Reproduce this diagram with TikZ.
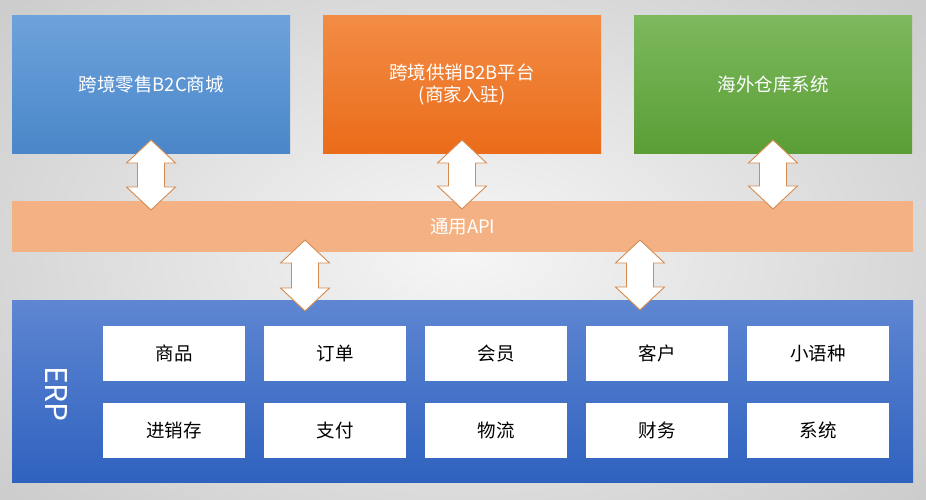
\documentclass[tikz,border=0pt]{standalone}
\usepackage{fontspec}
\setmainfont{Noto Sans CJK SC}
\usetikzlibrary{shadings}
\definecolor{bluetop}{HTML}{6DA3DC}
\definecolor{bluebot}{HTML}{4A86C8}
\definecolor{orgtop}{HTML}{F28C45}
\definecolor{orgbot}{HTML}{EB6C1A}
\definecolor{grntop}{HTML}{7DB95E}
\definecolor{grnbot}{HTML}{5A9E35}
\definecolor{apibar}{HTML}{F4B183}
\definecolor{erptop}{HTML}{5E86D2}
\definecolor{erpbot}{HTML}{2F62BF}
\definecolor{arrowedge}{HTML}{D58A50}
\definecolor{bgout}{HTML}{C9C9C9}
\definecolor{bgin}{HTML}{F6F6F6}
\tikzset{
  topbox/.style={minimum width=278pt, minimum height=138pt, inner sep=0pt, text=white, font=\fontsize{18.5}{22}\selectfont, align=center},
  modbox/.style={fill=white, minimum width=142pt, minimum height=55pt, inner sep=0pt, text=black, font=\fontsize{18.5}{20}\selectfont},
  blockarrow/.style={fill=white, draw=arrowedge, line width=0.9pt, line join=miter}
}
\newcommand\DblArrow[3]{% center x, top y, bottom y
  \path[blockarrow] (#1,#2) -- ++(24.5,23) -- ++(-11,0) -- (#1+13.5,#3-23) -- ++(11,0) -- (#1,#3)
    -- (#1-24.5,#3-23) -- ++(11,0) -- (#1-13.5,#2+23) -- ++(-11,0) -- cycle;}
\begin{document}
\begin{tikzpicture}[x=1pt,y=-1pt]
\useasboundingbox (0,0) rectangle (926,500);
\shade[inner color=bgin, outer color=bgout] (-200,-150) rectangle (1126,650);
% top systems
\node[topbox, top color=bluetop, bottom color=bluebot, anchor=north west] (b2c) at (12,15) {跨境零售B2C商城};
\node[topbox, top color=orgtop, bottom color=orgbot, anchor=north west] (b2b) at (323,15) {跨境供销B2B平台\\(商家入驻)};
\node[topbox, top color=grntop, bottom color=grnbot, anchor=north west] (wms) at (634,15) {海外仓库系统};
% API bar
\node[fill=apibar, minimum width=901pt, minimum height=51pt, inner sep=0pt, anchor=north west, text=white, font=\fontsize{18.5}{20}\selectfont] (api) at (12,201) {通用API};
% ERP
\node[top color=erptop, bottom color=erpbot, minimum width=901pt, minimum height=182pt, inner sep=0pt, anchor=north west] (erp) at (12,300) {};
\node[text=white, rotate=-90, font=\fontsize{30}{32}\selectfont] (erpl) at (56.5,394) {ERP};
\foreach \name/\txt/\col/\row in {m1/商品/0/0, m2/订单/1/0, m3/会员/2/0, m4/客户/3/0, m5/小语种/4/0,
  m6/进销存/0/1, m7/支付/1/1, m8/物流/2/1, m9/财务/3/1, m10/系统/4/1}{
  \node[modbox, anchor=north west] (\name) at ({103+161*\col},{326+77*\row}) {\txt};
}
% arrows
\DblArrow{151}{140}{210}
\DblArrow{462}{140}{209}
\DblArrow{773}{140}{209}
\DblArrow{305}{240}{311}
\DblArrow{640}{240}{310}
\end{tikzpicture}
\end{document}
